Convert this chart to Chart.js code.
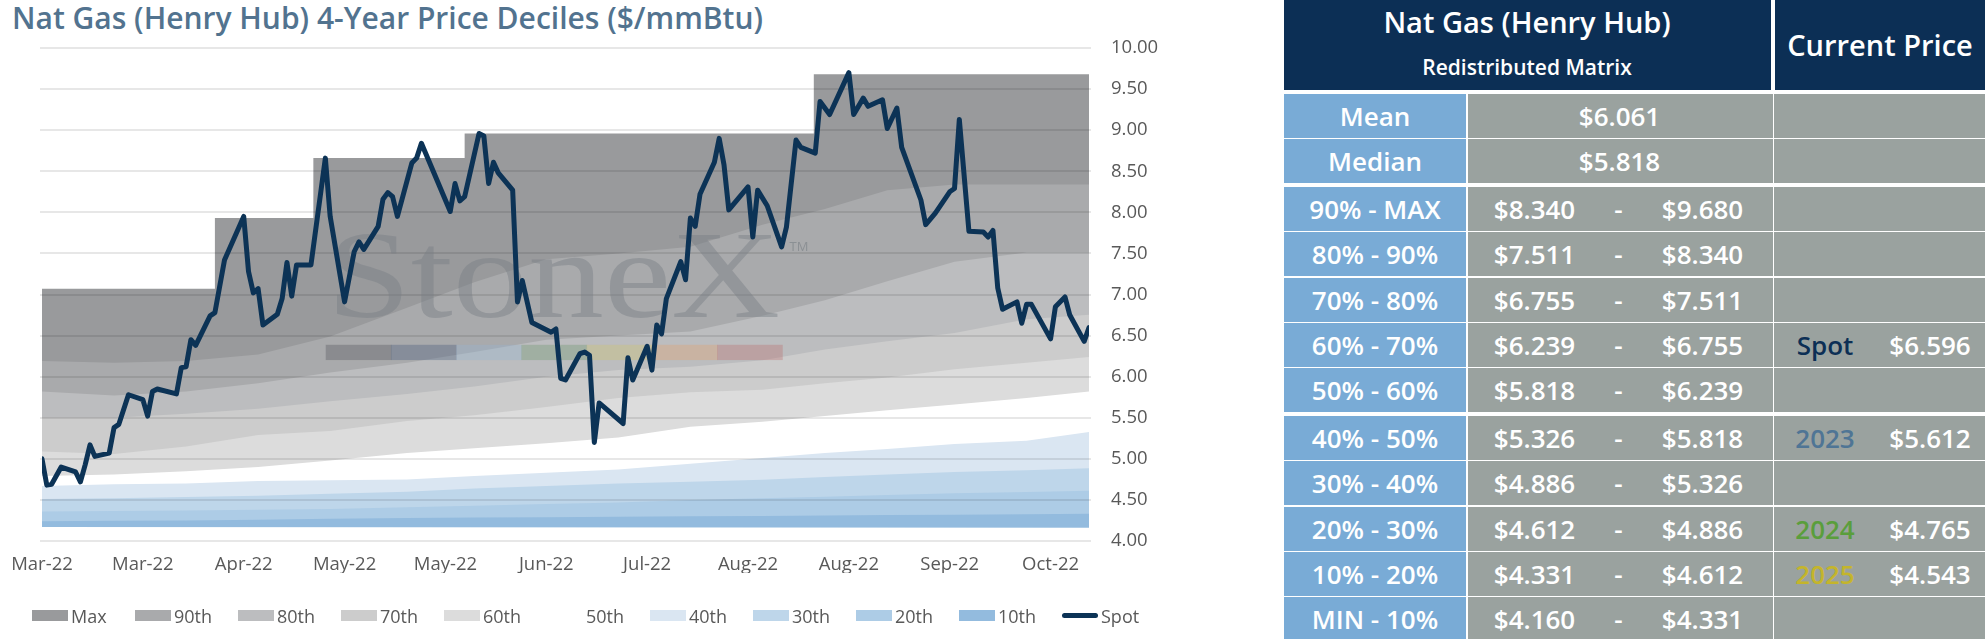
<!DOCTYPE html>
<html lang="en">
<head>
<meta charset="UTF-8" />
<meta name="viewport" content="width=device-width, initial-scale=1.0" />
<title>Nat Gas (Henry Hub) 4-Year Price Deciles</title>
<script src="https://cdn.jsdelivr.net/npm/chart.js@4/dist/chart.umd.min.js"></script>
<style>
  body { margin: 0; background: #fff; font-family: "Open Sans", sans-serif; }
  #page { position: relative; width: 1985px; height: 639px; overflow: hidden; }
  #title { position: absolute; left: 12px; top: 3px; font-size: 30px; line-height: 30px; font-weight: 600; color: #52738f; white-space: nowrap; }
  #chartbox { position: absolute; left: 0; top: 0; width: 1191px; height: 639px; }
  #legend { position: absolute; left: 0; top: 604px; width: 1180px; height: 24px; }
  .item { position: absolute; top: 0; height: 24px; font-size: 18px; line-height: 24px; color: #595959; }
  .swatch { position: absolute; left: 0; top: 6px; width: 36px; height: 11px; }
  .item span { position: absolute; left: 39px; top: 0; white-space: nowrap; }
  #matrix { position: absolute; left: 1284px; top: 0; width: 701px; height: 639px; }
  .cell { position: absolute; color: #fff; font-weight: 600; font-size: 26px; white-space: nowrap; }
  .txt { position: absolute; top: 50%; transform: translate(-50%, -50%); line-height: 1; }
</style>
</head>
<body>
<div id="page">
  <div id="title">Nat Gas (Henry Hub) 4-Year Price Deciles ($/mmBtu)</div>
  <div id="chartbox"><canvas id="mychart"></canvas></div>
  <div id="legend"></div>
  <div id="matrix"></div>
</div>
<script>
// x values are calendar days counted from 7 Mar 2022
const tickDays   = [0, 21, 42, 63, 84, 105, 126, 147, 168, 189, 210];
const tickLabels = ["Mar-22", "Mar-22", "Apr-22", "May-22", "May-22", "Jun-22", "Jul-22", "Aug-22", "Aug-22", "Sep-22", "Oct-22"];

const spotDays = [0, 1, 2, 4, 7, 8, 9, 10, 11, 14, 15, 16, 18, 21, 22, 23, 24, 28, 29, 30, 31, 32, 35, 36, 38,
    42, 43, 44, 45, 46, 49, 50, 51, 52, 53, 56, 59, 60, 63, 65, 66, 67, 70, 71, 72, 73, 74, 77, 78, 79,
    85, 86, 87, 88, 91, 92, 93, 94, 95, 98, 99, 100, 102, 106, 107, 108, 109, 112, 113, 114, 115, 116,
    121, 122, 123, 126, 127, 128, 129, 130, 133, 134, 135, 136, 137, 140, 141, 142, 143, 147, 148, 149,
    151, 154, 155, 157, 158, 161, 162, 164, 168, 169, 171, 172, 175, 176, 178, 179, 183, 184, 186, 189,
    190, 191, 193, 196, 197, 198, 199, 200, 203, 204, 205, 206, 210, 211, 213, 214, 217, 218];
const spotPrices = [5.00, 4.68, 4.69, 4.90, 4.84, 4.72, 4.93, 5.17, 5.03, 5.07, 5.38, 5.42, 5.78, 5.72, 5.52, 5.82, 5.85, 5.79, 6.11, 6.12, 6.45, 6.38, 6.74, 6.78, 7.42,
    7.95, 7.28, 7.02, 7.07, 6.63, 6.76, 6.95, 7.39, 6.98, 7.36, 7.36, 8.66, 7.95, 6.91, 7.52, 7.64, 7.55, 7.83, 8.16, 8.24, 8.19, 7.95, 8.60, 8.66, 8.84,
    8.01, 8.35, 8.14, 8.19, 8.96, 8.93, 8.35, 8.61, 8.48, 8.27, 6.91, 7.17, 6.66, 6.54, 6.58, 5.98, 5.96, 6.28, 6.30, 6.26, 5.20, 5.68,
    5.43, 6.23, 5.96, 6.37, 6.08, 6.63, 6.52, 6.95, 7.40, 7.18, 7.93, 7.83, 8.22, 8.61, 8.90, 8.58, 8.03, 8.31, 7.70, 8.27,
    8.08, 7.58, 7.82, 8.88, 8.79, 8.72, 9.35, 9.19, 9.70, 9.19, 9.39, 9.29, 9.37, 9.02, 9.27, 8.79, 8.15, 7.85, 7.99, 8.25,
    8.29, 9.13, 7.77, 7.76, 7.70, 7.78, 7.08, 6.82, 6.91, 6.65, 6.88, 6.88, 6.46, 6.85, 6.97, 6.75, 6.43, 6.596];

// 4-year max (step line)
const maxDays   = [0, 36, 56.5, 88, 160.7, 218];
const maxPrices = [7.07, 7.93, 8.66, 8.96, 9.68, 9.68];

// decile lines, all read at the same days
const bandDays = [0, 15, 30, 45, 60, 76, 90, 105, 120, 135, 150, 163, 176, 190, 205, 218];
const p90 = [6.19, 6.17, 6.19, 6.27, 6.49, 6.84, 7.15, 7.43, 7.50, 7.58, 7.85, 8.04, 8.27, 8.34, 8.34, 8.34];
const p80 = [5.82, 5.77, 5.82, 5.92, 6.05, 6.17, 6.30, 6.45, 6.50, 6.55, 6.74, 6.93, 7.16, 7.40, 7.51, 7.511];
const p70 = [5.50, 5.50, 5.55, 5.61, 5.70, 5.79, 5.88, 6.00, 6.08, 6.12, 6.20, 6.33, 6.43, 6.53, 6.70, 6.755];
const p60 = [5.09, 5.06, 5.15, 5.29, 5.34, 5.46, 5.53, 5.63, 5.74, 5.81, 5.84, 5.92, 5.99, 6.09, 6.17, 6.239];
const p50 = [4.79, 4.81, 4.85, 4.90, 4.98, 5.07, 5.13, 5.19, 5.26, 5.39, 5.45, 5.52, 5.59, 5.66, 5.74, 5.818];
const p40 = [4.67, 4.69, 4.70, 4.73, 4.74, 4.75, 4.79, 4.83, 4.87, 4.94, 5.01, 5.07, 5.12, 5.18, 5.22, 5.326];
const p30 = [4.51, 4.52, 4.535, 4.55, 4.575, 4.60, 4.64, 4.67, 4.70, 4.72, 4.745, 4.78, 4.81, 4.84, 4.86, 4.886];
const p20 = [4.36, 4.365, 4.37, 4.38, 4.39, 4.41, 4.43, 4.45, 4.47, 4.50, 4.52, 4.54, 4.56, 4.58, 4.595, 4.612];
const p10 = [4.24, 4.245, 4.25, 4.26, 4.27, 4.28, 4.285, 4.29, 4.295, 4.30, 4.305, 4.31, 4.315, 4.32, 4.325, 4.331];
const minDays   = [0, 218];
const minPrices = [4.17, 4.16];

const bandLabels = ["Max", "90th", "80th", "70th", "60th", "50th", "40th", "30th", "20th", "10th"];
const bandColors = ["#999a9c", "#a9aaac", "#bcbdbf", "#cccccc", "#dcdcdc", "#ffffff", "#dae6f2", "#bed6ea", "#adcce6", "#93bbde"];
const spotColor = "#0c3356";

// matrix on the right
const rowLabels = ["Mean", "Median", "90% - MAX", "80% - 90%", "70% - 80%", "60% - 70%", "50% - 60%", "40% - 50%", "30% - 40%", "20% - 30%", "10% - 20%", "MIN - 10%"];
const rowLow    = [6.061, 5.818, 8.340, 7.511, 6.755, 6.239, 5.818, 5.326, 4.886, 4.612, 4.331, 4.160];
const rowHigh   = [null, null, 9.680, 8.340, 7.511, 6.755, 6.239, 5.818, 5.326, 4.886, 4.612, 4.331];
const curNames  = ["", "", "", "", "", "Spot", "", "2023", "", "2024", "2025", ""];
const curPrices = [null, null, null, null, null, 6.596, null, 5.612, null, 4.765, 4.543, null];
const curColors = { "Spot": "#0c2f55", "2023": "#4f7595", "2024": "#5a9e3c", "2025": "#c4b52b" };

const toPoints = (days, vals) => days.map((d, i) => ({ x: d, y: vals[i] }));
const bandSeries = [p90, p80, p70, p60, p50, p40, p30, p20, p10];

const bandSets = bandLabels.map((label, k) => ({
    label: label,
    data: k === 0 ? toPoints(maxDays, maxPrices) : toPoints(bandDays, bandSeries[k - 1]),
    stepped: k === 0,
    backgroundColor: bandColors[k],
    borderColor: "rgba(0,0,0,0)",
    borderWidth: 0,
    pointRadius: 0,
    fill: "start"
}));

const spotSet = {
    label: "Spot",
    data: toPoints(spotDays, spotPrices),
    borderColor: spotColor,
    backgroundColor: spotColor,
    borderWidth: 5,
    borderJoinStyle: "round",
    borderCapStyle: "round",
    pointRadius: 0,
    fill: false
};

const minSet = {
    label: "Min",
    data: toPoints(minDays, minPrices),
    backgroundColor: "#ffffff",
    borderColor: "rgba(0,0,0,0)",
    borderWidth: 0,
    pointRadius: 0,
    fill: "start"
};

// grid lines and the StoneX mark go over the bands but under the spot line
const overlay = {
    id: "overlay",
    beforeDatasetDraw(chart, args) {
        if (args.index !== 0) return;
        const ctx = chart.ctx;
        const a = chart.chartArea;
        const y = chart.scales.y;
        const w = a.right - a.left, h = a.bottom - a.top;

        ctx.save();
        ctx.strokeStyle = "rgba(0,0,0,0.13)";
        ctx.lineWidth = 1.5;
        y.ticks.forEach(t => {
            const py = Math.round(y.getPixelForValue(t.value));
            ctx.beginPath();
            ctx.moveTo(a.left - 2, py);
            ctx.lineTo(a.right + 2, py);
            ctx.stroke();
        });

        const x0 = a.left + w * 0.272, x1 = a.left + w * 0.705;
        ctx.font = '124px "Liberation Serif", serif';
        ctx.textBaseline = "alphabetic";
        const tw = ctx.measureText("StoneX").width;
        ctx.fillStyle = "rgba(120,126,132,0.45)";
        ctx.translate(x0, a.top + h * 0.545);
        ctx.scale((x1 - x0) / tw, 1);
        ctx.fillText("StoneX", 0, 0);
        ctx.restore();

        ctx.save();
        ctx.font = '13px "Open Sans", sans-serif';
        ctx.fillStyle = "rgba(120,126,132,0.6)";
        ctx.fillText("TM", a.left + w * 0.714, a.top + h * 0.411);

        const barColors = ["rgba(80,84,90,0.35)", "rgba(70,90,120,0.35)", "rgba(150,180,210,0.35)", "rgba(110,150,110,0.35)",
            "rgba(205,195,110,0.35)", "rgba(225,160,110,0.35)", "rgba(185,110,110,0.35)"];
        const bx0 = a.left + w * 0.271, bx1 = a.left + w * 0.707;
        const by0 = a.top + h * 0.602, bh = h * 0.031;
        const seg = (bx1 - bx0) / barColors.length;
        barColors.forEach((c, i) => {
            ctx.fillStyle = c;
            ctx.fillRect(bx0 + i * seg, by0, seg + 0.5, bh);
        });
        ctx.restore();
    }
};

Chart.defaults.font.family = '"Open Sans", sans-serif';

const ctx = document.getElementById("mychart").getContext("2d");
const myChart = new Chart(ctx, {
    type: "line",
    data: { datasets: [spotSet, minSet].concat(bandSets.slice().reverse()) },
    options: {
        responsive: true,
        maintainAspectRatio: false,
        animation: false,
        layout: { padding: { left: 42, top: 48, right: 0, bottom: 66 } },
        plugins: { legend: { display: false }, tooltip: { enabled: false } },
        scales: {
            x: {
                type: "linear",
                min: 0,
                max: 218,
                afterBuildTicks: s => { s.ticks = tickDays.map(v => ({ value: v })); },
                afterFit: s => { s.height = 32; },
                ticks: {
                    autoSkip: false,
                    maxRotation: 0,
                    padding: 5,
                    color: "#595959",
                    font: { size: 18.5 },
                    callback: (v, i) => tickLabels[i]
                },
                grid: { display: false },
                border: { display: false }
            },
            y: {
                position: "right",
                min: 4,
                max: 10,
                afterFit: s => { s.width = 102; },
                ticks: {
                    stepSize: 0.5,
                    padding: 14,
                    color: "#595959",
                    font: { size: 18.5 },
                    callback: v => v.toFixed(2)
                },
                grid: { display: false },
                border: { display: false }
            }
        }
    },
    plugins: [overlay]
});

// legend in the picture's order
const legend = document.getElementById("legend");
bandLabels.concat(["Spot"]).forEach((label, k) => {
    const item = document.createElement("div");
    item.className = "item";
    item.style.left = (32 + k * 103) + "px";
    const sw = document.createElement("div");
    sw.className = "swatch";
    if (label === "Spot") {
        sw.style.background = spotColor;
        sw.style.height = "5px";
        sw.style.top = "9px";
        sw.style.borderRadius = "3px";
    } else {
        sw.style.background = bandColors[k];
    }
    const tx = document.createElement("span");
    tx.textContent = label;
    item.appendChild(sw);
    item.appendChild(tx);
    legend.appendChild(item);
});

// matrix
const matrix = document.getElementById("matrix");
function cell(left, top, width, height, bg) {
    const d = document.createElement("div");
    d.className = "cell";
    Object.assign(d.style, { left: left + "px", top: top + "px", width: width + "px", height: height + "px", background: bg });
    matrix.appendChild(d);
    return d;
}
function text(parent, str, cx, opts) {
    const s = document.createElement("div");
    s.className = "txt";
    s.textContent = str;
    s.style.left = cx + "px";
    if (opts) Object.assign(s.style, opts);
    parent.appendChild(s);
    return s;
}
const navy = "#0c2f55", blue = "#79abd6", grey = "#9aa29f";
const h1 = cell(0, 0, 487, 90, navy);
text(h1, "Nat Gas (Henry Hub)", 243, { top: "21px", fontSize: "29px" });
text(h1, "Redistributed Matrix", 243, { top: "67px", fontSize: "21px" });
const h2 = cell(491, 0, 210, 90, navy);
text(h2, "Current Price", 105, { top: "44px", fontSize: "29px" });

const fmt = v => "$" + v.toFixed(3);
rowLabels.forEach((label, i) => {
    const top = Math.round(94 + i * 45.4 + (i >= 2 ? 2 : 0) + (i >= 7 ? 2 : 0));
    const hgt = 44;
    text(cell(0, top, 182, hgt, blue), label, 91);
    const v = cell(183.5, top, 305, hgt, grey);
    if (rowHigh[i] === null) {
        text(v, fmt(rowLow[i]), 152);
    } else {
        text(v, fmt(rowLow[i]), 67);
        text(v, "-", 151);
        text(v, fmt(rowHigh[i]), 235);
    }
    const c = cell(490, top, 211, hgt, grey);
    if (curNames[i]) {
        text(c, curNames[i], 51, { color: curColors[curNames[i]] });
        text(c, fmt(curPrices[i]), 156);
    }
});
</script>
</body>
</html>
